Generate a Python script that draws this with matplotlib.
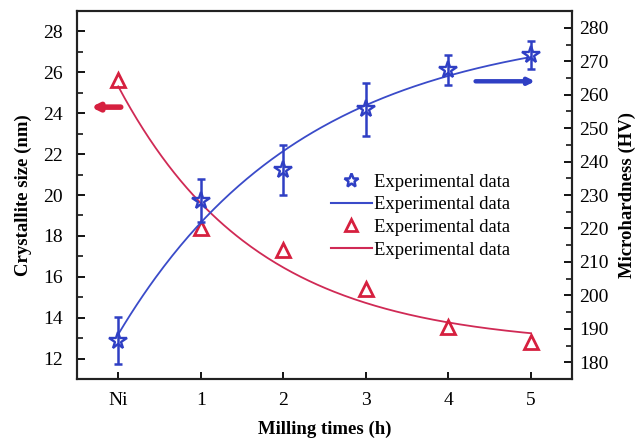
import numpy as np
import matplotlib
matplotlib.use("Agg")
import matplotlib.pyplot as plt
from matplotlib.ticker import MultipleLocator
from matplotlib.lines import Line2D

plt.rcParams['font.family'] = ['Liberation Serif', 'DejaVu Serif']

# milling time categories
x_labels = ["Ni", "1", "2", "3", "4", "5"]
milling_h = [0, 1, 2, 3, 4, 5]

# crystallite size (nm), left axis
crystallite_nm = [25.65, 18.4, 17.3, 15.4, 13.55, 12.8]

# microhardness (HV), right axis, with error bars
hardness_hv = [186.5, 228.3, 237.4, 255.6, 267.4, 271.8]
hardness_err = [7.0, 6.5, 7.5, 8.0, 4.4, 4.2]

RED = '#d6203f'
RED_LINE = '#d02a55'
BLUE = '#2f3fc4'
BLUE_LINE = '#3a4bc9'


def exp_fit(x, y):
    "Least squares fit of y = a + b * r**x, scanning r and solving a, b linearly"
    x = np.asarray(x, float)
    y = np.asarray(y, float)
    best = None
    for r in np.linspace(0.3, 0.95, 651):
        A = np.column_stack([np.ones_like(x), r ** x])
        coef = np.linalg.lstsq(A, y, rcond=None)[0]
        err = np.sum((A @ coef - y) ** 2)
        if best is None or err < best[0]:
            best = (err, coef[0], coef[1], r)
    _, a, b, r = best
    return lambda t: a + b * r ** t


fig = plt.figure(figsize=(6.4, 4.42), dpi=100)
ax = fig.add_axes([0.1203, 0.1425, 0.7737, 0.8325])
ax2 = ax.twinx()

xs = np.linspace(0, 5, 200)

# crystallite size
size_fit = exp_fit(milling_h, crystallite_nm)
ax.plot(xs, size_fit(xs), color=RED_LINE, lw=1.3)
ax.plot(milling_h, crystallite_nm, ls='none', marker='^', ms=10, mfc='none',
        mec=RED, mew=2.0)

# microhardness
hard_fit = exp_fit(milling_h, hardness_hv)
ax2.plot(xs, hard_fit(xs), color=BLUE_LINE, lw=1.3)
ax2.errorbar(milling_h, hardness_hv, yerr=hardness_err, fmt='none',
             ecolor=BLUE, elinewidth=1.8, capsize=3, capthick=1.8)
ax2.plot(milling_h, hardness_hv, ls='none', marker='*', ms=13, mfc='none',
         mec=BLUE, mew=1.7)

# arrows pointing at the matching axis
ax.annotate('', xy=(-0.33, 24.3), xytext=(0.03, 24.3),
            arrowprops=dict(arrowstyle='-|>', lw=4.0, color=RED,
                            mutation_scale=10, shrinkA=0, shrinkB=0))
ax2.annotate('', xy=(5.05, 264), xytext=(4.33, 264),
             arrowprops=dict(arrowstyle='-|>', lw=3.2, color=BLUE,
                             mutation_scale=9, shrinkA=0, shrinkB=0))

ax.set_xlim(-0.5, 5.5)
ax.set_ylim(11, 29)
ax2.set_ylim(175, 285)

ax.set_xticks(milling_h)
ax.set_xticklabels(x_labels)
ax.yaxis.set_major_locator(MultipleLocator(2))
ax.yaxis.set_minor_locator(MultipleLocator(1))
ax2.yaxis.set_major_locator(MultipleLocator(10))
ax2.yaxis.set_minor_locator(MultipleLocator(5))

for a in (ax, ax2):
    for s in a.spines.values():
        s.set_linewidth(1.5)
        s.set_color('#222222')
ax.tick_params(axis='x', direction='in', length=5, width=1.3, pad=9,
               labelsize=14)
ax.tick_params(axis='y', which='major', direction='in', length=5.5, width=1.3,
               labelsize=14, pad=10)
ax.tick_params(axis='y', which='minor', direction='in', length=4.5, width=1.1)
ax2.tick_params(axis='y', which='major', direction='in', length=5.5, width=1.3,
                labelsize=14, pad=5)
ax2.tick_params(axis='y', which='minor', direction='in', length=4.5, width=1.1)

ax.set_xlabel('Milling times (h)', fontsize=13.5, fontweight='bold', labelpad=9)
ax.set_ylabel('Crystallite size (nm)', fontsize=13.5, fontweight='bold', labelpad=8)
ax2.set_ylabel('Microhardness (HV)', fontsize=13.5, fontweight='bold', labelpad=7)

# legend: star, fit line, triangle, fit line
handles = [
    Line2D([], [], ls='none', marker='*', ms=10, mfc='none', mec=BLUE, mew=1.8),
    Line2D([], [], color=BLUE_LINE, lw=1.5),
    Line2D([], [], ls='none', marker='^', ms=8, mfc='none', mec=RED, mew=2.0),
    Line2D([], [], color=RED_LINE, lw=1.5),
]
labels = ['Experimental data'] * 4
leg = ax.legend(handles, labels, loc='upper left', bbox_to_anchor=(0.505, 0.568),
                fontsize=13.4, frameon=True, handlelength=2.2, handletextpad=0.1,
                labelspacing=0.3, borderpad=0.2, borderaxespad=0)
leg.get_frame().set_edgecolor('none')
leg.get_frame().set_facecolor('white')
leg.get_frame().set_alpha(1)

fig.savefig('out.png', dpi=100)
